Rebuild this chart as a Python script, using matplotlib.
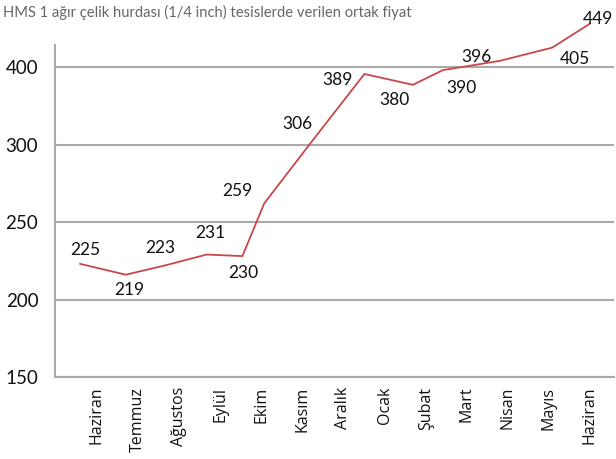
import numpy as np
import matplotlib.pyplot as plt

# x etiketleri (aylar) ve çizgi verisi
months = ['Haziran', 'Temmuz', 'Ağustos', 'Eylül', 'Ekim', 'Kasım', 'Aralık',
          'Ocak', 'Şubat', 'Mart', 'Nisan', 'Mayıs', 'Haziran']
point_pos = [-0.41, 0.70, 1.66, 2.67, 3.54, 4.07, 5.26, 6.51, 7.69, 8.42, 9.81, 11.08, 12.0]
prices = [223, 216, 222, 229, 228, 262, 306, 391, 377, 396, 408, 425, 456]
price_labels = ['225', '219', '223', '231', '230', '259', '306', '389', '380',
                '390', '396', '405', '449']
yticks = [150, 200, 250, 300, 400]

title = 'HMS 1 ağır çelik hurdası (1/4 inch) tesislerde verilen ortak fiyat'

# etiketlerin noktaya göre kayması (piksel)
label_offsets = [(5, 14), (4, -15), (-5, 17), (4, 22), (1, -17), (-27, 12), (-16, 16),
                 (-27, -6), (-18, -15), (19, -18), (-24, 4), (23, -11), (8, 5)]


# 300'ün üstü yarı ölçekte
def fwd(v):
    v = np.asarray(v, dtype=float)
    return np.where(v <= 300, v, 300 + (v - 300) * 0.5)


def inv(p):
    p = np.asarray(p, dtype=float)
    return np.where(p <= 300, p, 300 + (p - 300) * 2)


fig = plt.figure(figsize=(6.16, 4.59), dpi=100)
ax = fig.add_axes([55 / 616, 1 - 377 / 459, 559 / 616, 332 / 459])
ax.set_yscale('function', functions=(fwd, inv))

ax.plot(point_pos, prices, color='#c9474b', lw=1.3, clip_on=False, zorder=3)

for x, y, s, (dx, dy) in zip(point_pos, prices, price_labels, label_offsets):
    ax.annotate(s, (x, y), xytext=(dx, dy), textcoords='offset pixels',
                ha='center', va='center', fontsize=12.5, family='Lato',
                color='#111111', annotation_clip=False)

ax.set_ylim(150, 428.4)
ax.set_xlim(-1.022, 12.585)
ax.set_yticks(yticks)
ax.set_yticklabels([str(t) for t in yticks], family='Lato', fontsize=13.5, color='#111111')
ax.set_xticks(range(len(months)))
ax.set_xticklabels(months, rotation=90, family='Open Sans', fontsize=11.5, color='#111111')
ax.tick_params(axis='both', length=0)
ax.tick_params(axis='y', pad=12)
ax.tick_params(axis='x', pad=7)

ax.yaxis.grid(True, color='#aaaaaa', lw=1.5)
ax.set_axisbelow(True)
for side in ['top', 'right']:
    ax.spines[side].set_visible(False)
for side in ['left', 'bottom']:
    ax.spines[side].set_color('#aaaaaa')
    ax.spines[side].set_linewidth(1.5)

fig.text(3 / 616, 1 - 12 / 459, title, ha='left', va='center', fontsize=10.6,
         family='Lato', color='#666666')

fig.savefig('out.png', dpi=100)
